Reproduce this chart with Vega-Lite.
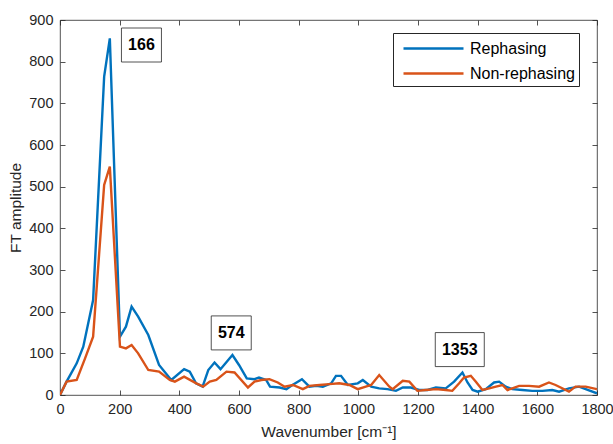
{
  "$schema": "https://vega.github.io/schema/vega-lite/v6.json",
  "width": 537,
  "height": 375,
  "autosize": {"type": "none"},
  "padding": {"left": 60, "top": 20, "right": 16, "bottom": 49},
  "background": "white",
  "config": {
    "view": {"stroke": "#262626", "strokeWidth": 0.8},
    "font": "Liberation Sans",
    "axis": {
      "domainColor": "#262626", "tickColor": "#262626", "labelColor": "#262626", "titleColor": "#262626",
      "labelFont": "Liberation Sans", "titleFont": "Liberation Sans", "labelFontSize": 14.5, "titleFontSize": 15.5,
      "titleFontWeight": "normal", "grid": false, "tickSize": 5, "domain": false, "tickWidth": 0.8,
      "labelFlush": false, "labelOverlap": false
    }
  },
  "datasets": {
    "spectra": [
      {"mode": "Rephasing", "wavenumber": 0, "amplitude": 0},
      {"mode": "Rephasing", "wavenumber": 22, "amplitude": 32},
      {"mode": "Rephasing", "wavenumber": 56, "amplitude": 76},
      {"mode": "Rephasing", "wavenumber": 78, "amplitude": 116},
      {"mode": "Rephasing", "wavenumber": 111, "amplitude": 228},
      {"mode": "Rephasing", "wavenumber": 148, "amplitude": 764},
      {"mode": "Rephasing", "wavenumber": 167, "amplitude": 856},
      {"mode": "Rephasing", "wavenumber": 201, "amplitude": 140},
      {"mode": "Rephasing", "wavenumber": 221, "amplitude": 164},
      {"mode": "Rephasing", "wavenumber": 240, "amplitude": 212},
      {"mode": "Rephasing", "wavenumber": 262, "amplitude": 188},
      {"mode": "Rephasing", "wavenumber": 296, "amplitude": 144},
      {"mode": "Rephasing", "wavenumber": 332, "amplitude": 72},
      {"mode": "Rephasing", "wavenumber": 373, "amplitude": 36},
      {"mode": "Rephasing", "wavenumber": 416, "amplitude": 62},
      {"mode": "Rephasing", "wavenumber": 435, "amplitude": 56},
      {"mode": "Rephasing", "wavenumber": 456, "amplitude": 28},
      {"mode": "Rephasing", "wavenumber": 478, "amplitude": 20},
      {"mode": "Rephasing", "wavenumber": 497, "amplitude": 60},
      {"mode": "Rephasing", "wavenumber": 518, "amplitude": 78},
      {"mode": "Rephasing", "wavenumber": 538, "amplitude": 62},
      {"mode": "Rephasing", "wavenumber": 559, "amplitude": 80},
      {"mode": "Rephasing", "wavenumber": 578, "amplitude": 96},
      {"mode": "Rephasing", "wavenumber": 600, "amplitude": 72},
      {"mode": "Rephasing", "wavenumber": 626, "amplitude": 40},
      {"mode": "Rephasing", "wavenumber": 652, "amplitude": 38},
      {"mode": "Rephasing", "wavenumber": 667, "amplitude": 42},
      {"mode": "Rephasing", "wavenumber": 691, "amplitude": 36},
      {"mode": "Rephasing", "wavenumber": 704, "amplitude": 20},
      {"mode": "Rephasing", "wavenumber": 736, "amplitude": 18},
      {"mode": "Rephasing", "wavenumber": 759, "amplitude": 14},
      {"mode": "Rephasing", "wavenumber": 775, "amplitude": 22},
      {"mode": "Rephasing", "wavenumber": 811, "amplitude": 38},
      {"mode": "Rephasing", "wavenumber": 836, "amplitude": 20},
      {"mode": "Rephasing", "wavenumber": 859, "amplitude": 22},
      {"mode": "Rephasing", "wavenumber": 881, "amplitude": 20},
      {"mode": "Rephasing", "wavenumber": 909, "amplitude": 28},
      {"mode": "Rephasing", "wavenumber": 925, "amplitude": 46},
      {"mode": "Rephasing", "wavenumber": 942, "amplitude": 46},
      {"mode": "Rephasing", "wavenumber": 965, "amplitude": 24},
      {"mode": "Rephasing", "wavenumber": 998, "amplitude": 28},
      {"mode": "Rephasing", "wavenumber": 1015, "amplitude": 36},
      {"mode": "Rephasing", "wavenumber": 1043, "amplitude": 20},
      {"mode": "Rephasing", "wavenumber": 1070, "amplitude": 16},
      {"mode": "Rephasing", "wavenumber": 1098, "amplitude": 14},
      {"mode": "Rephasing", "wavenumber": 1126, "amplitude": 10},
      {"mode": "Rephasing", "wavenumber": 1149, "amplitude": 18},
      {"mode": "Rephasing", "wavenumber": 1176, "amplitude": 18},
      {"mode": "Rephasing", "wavenumber": 1204, "amplitude": 12},
      {"mode": "Rephasing", "wavenumber": 1232, "amplitude": 12},
      {"mode": "Rephasing", "wavenumber": 1260, "amplitude": 18},
      {"mode": "Rephasing", "wavenumber": 1293, "amplitude": 16},
      {"mode": "Rephasing", "wavenumber": 1321, "amplitude": 32},
      {"mode": "Rephasing", "wavenumber": 1349, "amplitude": 54},
      {"mode": "Rephasing", "wavenumber": 1366, "amplitude": 30},
      {"mode": "Rephasing", "wavenumber": 1383, "amplitude": 12},
      {"mode": "Rephasing", "wavenumber": 1400, "amplitude": 8},
      {"mode": "Rephasing", "wavenumber": 1427, "amplitude": 14},
      {"mode": "Rephasing", "wavenumber": 1455, "amplitude": 30},
      {"mode": "Rephasing", "wavenumber": 1472, "amplitude": 32},
      {"mode": "Rephasing", "wavenumber": 1494, "amplitude": 20},
      {"mode": "Rephasing", "wavenumber": 1516, "amplitude": 14},
      {"mode": "Rephasing", "wavenumber": 1550, "amplitude": 12},
      {"mode": "Rephasing", "wavenumber": 1583, "amplitude": 10},
      {"mode": "Rephasing", "wavenumber": 1617, "amplitude": 10},
      {"mode": "Rephasing", "wavenumber": 1650, "amplitude": 12},
      {"mode": "Rephasing", "wavenumber": 1673, "amplitude": 8},
      {"mode": "Rephasing", "wavenumber": 1706, "amplitude": 16},
      {"mode": "Rephasing", "wavenumber": 1740, "amplitude": 20},
      {"mode": "Rephasing", "wavenumber": 1762, "amplitude": 14},
      {"mode": "Rephasing", "wavenumber": 1800, "amplitude": 4},
      {"mode": "Non-rephasing", "wavenumber": 0, "amplitude": 0},
      {"mode": "Non-rephasing", "wavenumber": 22, "amplitude": 32},
      {"mode": "Non-rephasing", "wavenumber": 56, "amplitude": 36},
      {"mode": "Non-rephasing", "wavenumber": 84, "amplitude": 88},
      {"mode": "Non-rephasing", "wavenumber": 111, "amplitude": 140},
      {"mode": "Non-rephasing", "wavenumber": 148, "amplitude": 504},
      {"mode": "Non-rephasing", "wavenumber": 167, "amplitude": 548},
      {"mode": "Non-rephasing", "wavenumber": 201, "amplitude": 116},
      {"mode": "Non-rephasing", "wavenumber": 221, "amplitude": 112},
      {"mode": "Non-rephasing", "wavenumber": 240, "amplitude": 120},
      {"mode": "Non-rephasing", "wavenumber": 262, "amplitude": 100},
      {"mode": "Non-rephasing", "wavenumber": 296, "amplitude": 60},
      {"mode": "Non-rephasing", "wavenumber": 332, "amplitude": 56},
      {"mode": "Non-rephasing", "wavenumber": 368, "amplitude": 36},
      {"mode": "Non-rephasing", "wavenumber": 385, "amplitude": 32},
      {"mode": "Non-rephasing", "wavenumber": 416, "amplitude": 44},
      {"mode": "Non-rephasing", "wavenumber": 457, "amplitude": 28},
      {"mode": "Non-rephasing", "wavenumber": 480, "amplitude": 20},
      {"mode": "Non-rephasing", "wavenumber": 502, "amplitude": 32},
      {"mode": "Non-rephasing", "wavenumber": 524, "amplitude": 36},
      {"mode": "Non-rephasing", "wavenumber": 558, "amplitude": 56},
      {"mode": "Non-rephasing", "wavenumber": 585, "amplitude": 54},
      {"mode": "Non-rephasing", "wavenumber": 630, "amplitude": 18},
      {"mode": "Non-rephasing", "wavenumber": 652, "amplitude": 32},
      {"mode": "Non-rephasing", "wavenumber": 675, "amplitude": 36},
      {"mode": "Non-rephasing", "wavenumber": 702, "amplitude": 38},
      {"mode": "Non-rephasing", "wavenumber": 730, "amplitude": 30},
      {"mode": "Non-rephasing", "wavenumber": 753, "amplitude": 20},
      {"mode": "Non-rephasing", "wavenumber": 781, "amplitude": 24},
      {"mode": "Non-rephasing", "wavenumber": 814, "amplitude": 14},
      {"mode": "Non-rephasing", "wavenumber": 836, "amplitude": 22},
      {"mode": "Non-rephasing", "wavenumber": 870, "amplitude": 24},
      {"mode": "Non-rephasing", "wavenumber": 903, "amplitude": 26},
      {"mode": "Non-rephasing", "wavenumber": 936, "amplitude": 28},
      {"mode": "Non-rephasing", "wavenumber": 970, "amplitude": 24},
      {"mode": "Non-rephasing", "wavenumber": 998, "amplitude": 14},
      {"mode": "Non-rephasing", "wavenumber": 1025, "amplitude": 20},
      {"mode": "Non-rephasing", "wavenumber": 1043, "amplitude": 24},
      {"mode": "Non-rephasing", "wavenumber": 1070, "amplitude": 48},
      {"mode": "Non-rephasing", "wavenumber": 1104, "amplitude": 20},
      {"mode": "Non-rephasing", "wavenumber": 1115, "amplitude": 14},
      {"mode": "Non-rephasing", "wavenumber": 1149, "amplitude": 34},
      {"mode": "Non-rephasing", "wavenumber": 1171, "amplitude": 32},
      {"mode": "Non-rephasing", "wavenumber": 1198, "amplitude": 10},
      {"mode": "Non-rephasing", "wavenumber": 1226, "amplitude": 12},
      {"mode": "Non-rephasing", "wavenumber": 1260, "amplitude": 14},
      {"mode": "Non-rephasing", "wavenumber": 1293, "amplitude": 12},
      {"mode": "Non-rephasing", "wavenumber": 1315, "amplitude": 10},
      {"mode": "Non-rephasing", "wavenumber": 1338, "amplitude": 28},
      {"mode": "Non-rephasing", "wavenumber": 1354, "amplitude": 42},
      {"mode": "Non-rephasing", "wavenumber": 1377, "amplitude": 46},
      {"mode": "Non-rephasing", "wavenumber": 1394, "amplitude": 32},
      {"mode": "Non-rephasing", "wavenumber": 1416, "amplitude": 12},
      {"mode": "Non-rephasing", "wavenumber": 1439, "amplitude": 16},
      {"mode": "Non-rephasing", "wavenumber": 1461, "amplitude": 20},
      {"mode": "Non-rephasing", "wavenumber": 1483, "amplitude": 24},
      {"mode": "Non-rephasing", "wavenumber": 1500, "amplitude": 12},
      {"mode": "Non-rephasing", "wavenumber": 1516, "amplitude": 16},
      {"mode": "Non-rephasing", "wavenumber": 1539, "amplitude": 22},
      {"mode": "Non-rephasing", "wavenumber": 1572, "amplitude": 22},
      {"mode": "Non-rephasing", "wavenumber": 1606, "amplitude": 20},
      {"mode": "Non-rephasing", "wavenumber": 1639, "amplitude": 30},
      {"mode": "Non-rephasing", "wavenumber": 1661, "amplitude": 24},
      {"mode": "Non-rephasing", "wavenumber": 1706, "amplitude": 8},
      {"mode": "Non-rephasing", "wavenumber": 1728, "amplitude": 20},
      {"mode": "Non-rephasing", "wavenumber": 1762, "amplitude": 20},
      {"mode": "Non-rephasing", "wavenumber": 1800, "amplitude": 14}
    ],
    "labels": [
      {"label": "166", "wavenumber": 273, "amplitude": 840},
      {"label": "574", "wavenumber": 574, "amplitude": 149},
      {"label": "1353", "wavenumber": 1340, "amplitude": 109}
    ]
  },
  "layer": [
    {
      "data": {"name": "spectra"},
      "mark": {"type": "line", "strokeWidth": 2.4, "clip": true},
      "encoding": {
        "x": {"field": "wavenumber", "type": "quantitative", "scale": {"domain": [0, 1800], "nice": false},
              "axis": {"orient": "bottom", "values": [0, 200, 400, 600, 800, 1000, 1200, 1400, 1600, 1800], "format": "d", "ticks": false, "tickSize": 0, "title": "Wavenumber [cm⁻¹]", "labelPadding": 7, "titlePadding": 9}},
        "y": {"field": "amplitude", "type": "quantitative", "scale": {"domain": [0, 900], "nice": false},
              "axis": {"orient": "left", "values": [0, 100, 200, 300, 400, 500, 600, 700, 800, 900], "ticks": false, "tickSize": 0, "title": "FT amplitude", "labelPadding": 7, "titlePadding": 5}},
        "color": {"field": "mode", "type": "nominal",
                  "scale": {"domain": ["Rephasing", "Non-rephasing"], "range": ["#0072BD", "#D95319"]},
                  "legend": {"orient": "none", "legendX": 333, "legendY": 13, "title": null, "symbolType": "M-3,0H3",
                             "symbolSize": 400, "symbolStrokeWidth": 2.4, "symbolOffset": 25, "labelFontSize": 16, "labelFont": "Liberation Sans",
                             "labelColor": "#000000", "labelAlign": "left", "strokeColor": "#262626", "fillColor": "white", "padding": 4,
                             "rowPadding": 5, "labelOffset": 25}}
      }
    },
    {
      "data": {"name": "spectra"},
      "mark": {"type": "point", "opacity": 0},
      "encoding": {
        "x": {"field": "wavenumber", "type": "quantitative", "axis": {"orient": "top", "offset": -375, "values": [0, 200, 400, 600, 800, 1000, 1200, 1400, 1600, 1800], "labels": false, "title": null}},
        "y": {"field": "amplitude", "type": "quantitative", "axis": {"orient": "right", "offset": -537, "values": [0, 100, 200, 300, 400, 500, 600, 700, 800, 900], "labels": false, "title": null}}
      }
    },
    {
      "data": {"name": "spectra"},
      "mark": {"type": "point", "opacity": 0},
      "encoding": {
        "x": {"field": "wavenumber", "type": "quantitative", "axis": {"orient": "bottom", "offset": -375, "values": [0, 200, 400, 600, 800, 1000, 1200, 1400, 1600, 1800], "labels": false, "title": null}},
        "y": {"field": "amplitude", "type": "quantitative", "axis": {"orient": "left", "offset": -537, "values": [0, 100, 200, 300, 400, 500, 600, 700, 800, 900], "labels": false, "title": null}}
      }
    },
    {
      "data": {"name": "labels"},
      "transform": [{"filter": "length(datum.label) == 3"}],
      "mark": {"type": "rect", "width": 40, "height": 34, "fill": "white", "stroke": "#262626", "strokeWidth": 0.8},
      "encoding": {
        "x": {"field": "wavenumber", "type": "quantitative", "axis": null},
        "y": {"field": "amplitude", "type": "quantitative", "axis": null}
      }
    },
    {
      "data": {"name": "labels"},
      "transform": [{"filter": "length(datum.label) == 4"}],
      "mark": {"type": "rect", "width": 49, "height": 34, "fill": "white", "stroke": "#262626", "strokeWidth": 0.8},
      "encoding": {
        "x": {"field": "wavenumber", "type": "quantitative", "axis": null},
        "y": {"field": "amplitude", "type": "quantitative", "axis": null}
      }
    },
    {
      "data": {"name": "labels"},
      "mark": {"type": "text", "fontWeight": "bold", "fontSize": 16, "font": "Liberation Sans", "color": "#000000", "align": "center", "baseline": "middle"},
      "encoding": {
        "x": {"field": "wavenumber", "type": "quantitative", "axis": null},
        "y": {"field": "amplitude", "type": "quantitative", "axis": null},
        "text": {"field": "label"}
      }
    }
  ],
  "resolve": {"axis": {"x": "independent", "y": "independent"}}
}
